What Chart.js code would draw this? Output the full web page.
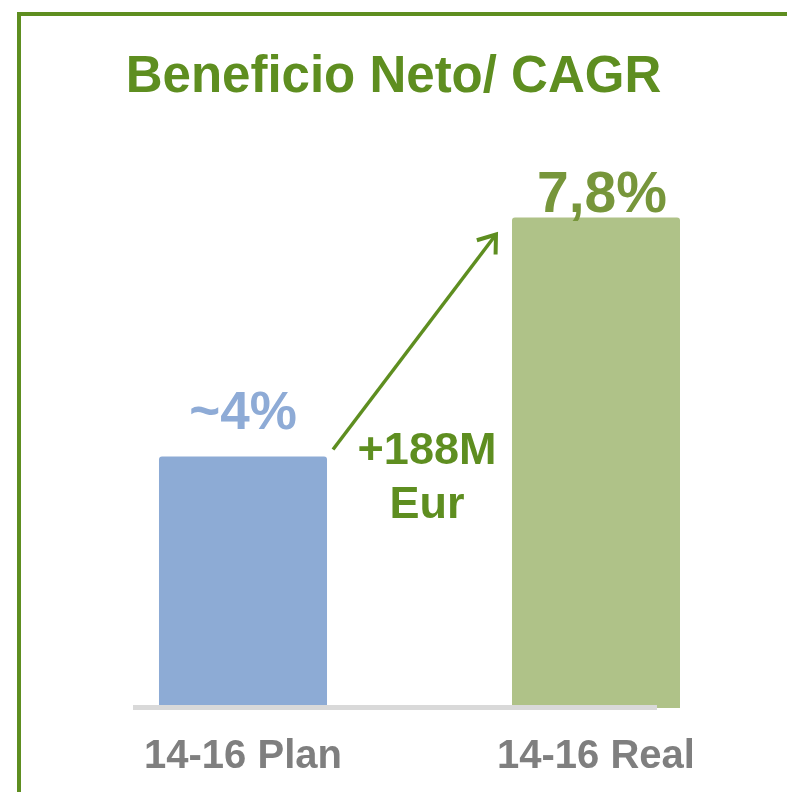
<!DOCTYPE html>
<html>
<head>
<meta charset="utf-8">
<script src="https://cdn.jsdelivr.net/npm/chart.js@4"></script>
<style>
  html, body { margin: 0; padding: 0; background: #ffffff; }
  #wrap { width: 787px; height: 792px; position: relative; }
</style>
</head>
<body>
<div id="wrap"><canvas id="c" width="787" height="792"></canvas></div>
<script>
// ---- data ----
const categories = ['14-16 Plan', '14-16 Real'];
const cagrValues = [4.0, 7.8];
const valueLabels = ['~4%', '7,8%'];
const titleText = 'Beneficio Neto/ CAGR';
const deltaLabel = ['+188M', 'Eur'];

// ---- styles ----
const GREEN = '#5e8e20';
const barColors = ['#8dabd5', '#afc288'];
const labelColors = ['#8eabd6', '#77963b'];
const labelFonts = ['bold 53px "Liberation Sans", Arial, sans-serif', 'bold 57px "Liberation Sans", Arial, sans-serif'];
const labelOffsets = [{dx: 0, dy: 27}, {dx: 6, dy: 5}];

const decorPlugin = {
  id: 'decor',
  beforeDraw(chart) {
    const ctx = chart.ctx;
    ctx.save();
    // frame
    ctx.strokeStyle = GREEN;
    ctx.lineWidth = 4;
    ctx.beginPath();
    ctx.moveTo(19, 800);
    ctx.lineTo(19, 14);
    ctx.lineTo(800, 14);
    ctx.stroke();
    // title
    ctx.fillStyle = GREEN;
    ctx.font = 'bold 51px "Liberation Sans", Arial, sans-serif';
    ctx.textAlign = 'center';
    ctx.textBaseline = 'alphabetic';
    ctx.fillText(titleText, chart.width / 2, 92);
    ctx.restore();
  },
  afterDatasetsDraw(chart) {
    const ctx = chart.ctx;
    const meta = chart.getDatasetMeta(0);
    const b0 = meta.data[0], b1 = meta.data[1];
    const y0 = chart.scales.y.getPixelForValue(0);
    ctx.save();
    // baseline
    ctx.strokeStyle = '#d9d9d9';
    ctx.lineWidth = 5;
    ctx.beginPath();
    ctx.moveTo(b0.x - b0.width / 2 - 26, y0 - 0.5);
    ctx.lineTo(b1.x + b1.width / 2 - 23, y0 - 0.5);
    ctx.stroke();
    // value labels
    ctx.textAlign = 'center';
    ctx.textBaseline = 'alphabetic';
    meta.data.forEach((bar, i) => {
      ctx.fillStyle = labelColors[i];
      ctx.font = labelFonts[i];
      ctx.fillText(valueLabels[i], bar.x + labelOffsets[i].dx, bar.y - labelOffsets[i].dy);
    });
    // arrow
    const sx = b0.x + b0.width / 2 + 6, sy = b0.y - 7;
    const ex = b1.x - b1.width / 2 - 16, ey = b1.y + 17;
    ctx.strokeStyle = GREEN;
    ctx.lineWidth = 3.5;
    ctx.lineCap = 'butt';
    ctx.beginPath();
    ctx.moveTo(sx, sy);
    ctx.lineTo(ex, ey);
    ctx.stroke();
    const ang = Math.atan2(ey - sy, ex - sx);
    const hl = 20, ha = Math.PI / 5;
    ctx.lineWidth = 4;
    ctx.lineJoin = 'miter';
    ctx.beginPath();
    ctx.moveTo(ex - hl * Math.cos(ang - ha), ey - hl * Math.sin(ang - ha));
    ctx.lineTo(ex, ey);
    ctx.lineTo(ex - hl * Math.cos(ang + ha), ey - hl * Math.sin(ang + ha));
    ctx.stroke();
    // delta text
    ctx.fillStyle = GREEN;
    ctx.font = 'bold 45px "Liberation Sans", Arial, sans-serif';
    const mx = (b0.x + b0.width / 2 + b1.x - b1.width / 2) / 2 + 7.5;
    ctx.fillText(deltaLabel[0], mx, b0.y + 8);
    ctx.fillText(deltaLabel[1], mx, b0.y + 62);
    ctx.restore();
  }
};

new Chart(document.getElementById('c'), {
  type: 'bar',
  data: {
    labels: categories,
    datasets: [{
      data: cagrValues,
      backgroundColor: barColors,
      borderWidth: 0,
      borderRadius: 3,
      borderSkipped: 'bottom',
      barPercentage: 0.476,
      categoryPercentage: 1.0
    }]
  },
  options: {
    responsive: false,
    animation: false,
    devicePixelRatio: 1,
    layout: { padding: { left: 66.5, right: 14.5, top: 142, bottom: 10 } },
    plugins: { legend: { display: false }, title: { display: false }, tooltip: { enabled: false } },
    scales: {
      x: {
        grid: { display: false, drawTicks: false },
        border: { display: false },
        afterFit(scale) { scale.height = 74; },
        ticks: {
          color: '#7f7f7f',
          padding: 25,
          font: { family: '"Liberation Sans", Arial, sans-serif', size: 40, weight: 'bold' }
        }
      },
      y: {
        display: false,
        min: 0,
        max: 9
      }
    }
  },
  plugins: [decorPlugin]
});
</script>
</body>
</html>
